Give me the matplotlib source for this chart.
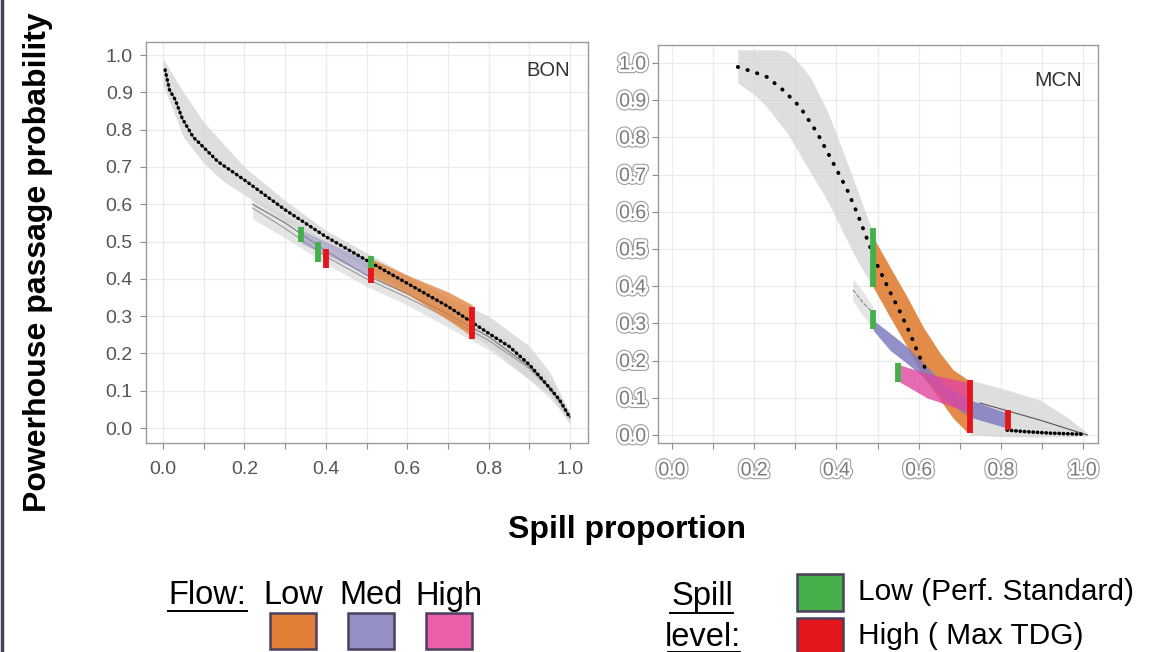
import matplotlib as mpl
mpl.use('Agg')
import matplotlib.pyplot as plt
import matplotlib.patheffects as pe
from matplotlib.lines import Line2D
from matplotlib.patches import Rectangle
from matplotlib.ticker import MultipleLocator

plt.rcParams['font.family'] = ['Liberation Sans', 'DejaVu Sans']

# ---- BON panel values ----
bon_x = [0.005, 0.016, 0.03, 0.047, 0.074, 0.09, 0.135, 0.2, 0.3, 0.4, 0.5,
         0.6, 0.7, 0.8, 0.85, 0.9, 0.94, 0.974, 1.0]
bon_y = [0.96, 0.906, 0.88, 0.83, 0.78, 0.763, 0.714, 0.665, 0.585, 0.513, 0.45,
         0.388, 0.326, 0.254, 0.219, 0.17, 0.12, 0.076, 0.027]
bon_band_x = [0.0, 0.05, 0.1, 0.15, 0.2, 0.3, 0.4, 0.5, 0.6, 0.7, 0.8, 0.9, 0.95, 1.0]
bon_band_hi = [0.99, 0.90, 0.82, 0.76, 0.70, 0.61, 0.53, 0.47, 0.41, 0.35, 0.30, 0.22, 0.15, 0.04]
bon_band_lo = [0.92, 0.78, 0.71, 0.66, 0.625, 0.555, 0.49, 0.43, 0.37, 0.30, 0.22, 0.13, 0.09, 0.01]

bon_alt_x = [0.22, 0.3, 0.4, 0.5, 0.6, 0.7, 0.8, 0.9, 0.95, 1.0]
bon_alt_y1 = [0.60, 0.55, 0.475, 0.41, 0.36, 0.305, 0.245, 0.165, 0.11, 0.03]
bon_alt_y2 = [0.59, 0.535, 0.46, 0.40, 0.35, 0.295, 0.235, 0.16, 0.105, 0.03]
bon_alt_hi = [0.62, 0.57, 0.50, 0.44, 0.39, 0.33, 0.27, 0.19, 0.13, 0.04]
bon_alt_lo = [0.56, 0.51, 0.44, 0.38, 0.33, 0.27, 0.21, 0.13, 0.08, 0.02]

bon_low_x = [0.51, 0.6, 0.7, 0.76]
bon_low_hi = [0.455, 0.41, 0.365, 0.33]
bon_low_lo = [0.41, 0.36, 0.29, 0.245]
bon_med_x = [0.34, 0.42, 0.51]
bon_med_hi = [0.53, 0.49, 0.445]
bon_med_lo = [0.495, 0.455, 0.405]

# (x, y bottom, y top)
bon_spill_low = [(0.34, 0.50, 0.54), (0.38, 0.445, 0.50), (0.51, 0.43, 0.46)]
bon_spill_high = [(0.40, 0.43, 0.48), (0.51, 0.39, 0.43), (0.76, 0.24, 0.325)]

# ---- MCN panel values ----
mcn_x = [0.16, 0.2, 0.231, 0.27, 0.311, 0.353, 0.392, 0.426, 0.45, 0.482,
         0.50, 0.53, 0.555, 0.58, 0.60, 0.62]
mcn_y = [0.989, 0.975, 0.962, 0.927, 0.882, 0.812, 0.731, 0.659, 0.597, 0.505,
         0.455, 0.385, 0.33, 0.27, 0.215, 0.17]
mcn_tail_x = [0.815, 0.86, 0.92, 0.97, 1.0]
mcn_tail_y = [0.013, 0.009, 0.005, 0.003, 0.002]
mcn_band_x = [0.16, 0.2, 0.23, 0.26, 0.28, 0.3, 0.32, 0.34, 0.38, 0.42, 0.45, 0.49]
mcn_band_hi = [1.035, 1.035, 1.035, 1.035, 1.03, 1.01, 0.985, 0.955, 0.865, 0.75, 0.66, 0.54]
mcn_band_lo = [0.946, 0.915, 0.882, 0.84, 0.812, 0.775, 0.737, 0.70, 0.625, 0.535, 0.47, 0.395]
mcn_tailband_x = [0.725, 0.815, 0.895, 0.961, 1.01]
mcn_tailband_hi = [0.148, 0.121, 0.094, 0.048, 0.005]
mcn_tailband_lo = [0.0, -0.005, -0.005, -0.005, -0.002]
mcn_thin_x = [0.749, 0.895, 1.01]
mcn_thin_y = [0.086, 0.04, 0.0]
mcn_pre_x = [0.44, 0.465, 0.489]
mcn_pre_y = [0.39, 0.355, 0.328]
mcn_pre_hi = [0.42, 0.385, 0.345]
mcn_pre_lo = [0.36, 0.32, 0.285]

mcn_low_x = [0.489, 0.53, 0.572, 0.611, 0.652, 0.684, 0.72]
mcn_low_hi = [0.532, 0.452, 0.371, 0.29, 0.22, 0.175, 0.148]
mcn_low_lo = [0.398, 0.317, 0.237, 0.156, 0.094, 0.045, 0.005]
mcn_med_x = [0.489, 0.53, 0.572, 0.62, 0.669, 0.725, 0.774, 0.815]
mcn_med_hi = [0.309, 0.274, 0.237, 0.183, 0.129, 0.094, 0.075, 0.059]
mcn_med_lo = [0.282, 0.228, 0.192, 0.148, 0.09, 0.048, 0.032, 0.019]
mcn_high_x = [0.55, 0.62, 0.725]
mcn_high_hi = [0.19, 0.165, 0.14]
mcn_high_lo = [0.145, 0.10, 0.06]

mcn_spill_low = [(0.489, 0.398, 0.555), (0.489, 0.285, 0.335), (0.549, 0.142, 0.194)]
mcn_spill_high = [(0.725, 0.005, 0.148), (0.818, 0.013, 0.067)]

flow_labels = ['Low', 'Med', 'High']
flow_colors = ['#E07E35', '#9590C4', '#EB5FA8']
spill_labels = ['Low (Perf. Standard)', 'High ( Max TDG)']
spill_colors = ['#45B04A', '#E4161C']

GREEN = spill_colors[0]
RED = spill_colors[1]
BAND = '#d4d4d4'


def style_axes(ax, xlim, ylim, xpad, ypad):
    ax.set_xlim(*xlim)
    ax.set_ylim(*ylim)
    ax.xaxis.set_major_locator(MultipleLocator(0.2))
    ax.xaxis.set_minor_locator(MultipleLocator(0.1))
    ax.yaxis.set_major_locator(MultipleLocator(0.1))
    ax.grid(which='both', color='#ebebeb', lw=0.9)
    ax.set_axisbelow(True)
    for s in ax.spines.values():
        s.set_color('#9a9a9a')
        s.set_linewidth(1.0)
    ax.tick_params(which='both', colors='#8a8a8a', length=4, width=0.8,
                   labelsize=14, labelcolor='#555555')
    ax.tick_params(axis='x', pad=xpad)
    ax.tick_params(axis='y', pad=ypad)
    ax.xaxis.set_major_formatter(mpl.ticker.FormatStrFormatter('%.1f'))
    ax.yaxis.set_major_formatter(mpl.ticker.FormatStrFormatter('%.1f'))


def bars(ax, items, color):
    for x, y0, y1 in items:
        ax.plot([x, x], [y0, y1], color=color, lw=4.2, solid_capstyle='butt', zorder=6)


fig = plt.figure(figsize=(11.5, 6.52), dpi=100)

# ---------------- BON ----------------
ax1 = fig.add_axes([146 / 1150, 1 - 443 / 652, 442 / 1150, 401 / 652])
style_axes(ax1, (-0.042, 1.044), (-0.040, 1.035), 9, 5.5)
ax1.fill_between(bon_band_x, bon_band_lo, bon_band_hi, color=BAND, alpha=0.75, lw=0)
ax1.fill_between(bon_alt_x, bon_alt_lo, bon_alt_hi, color=BAND, alpha=0.6, lw=0)
ax1.plot(bon_alt_x, bon_alt_y1, color='#777777', lw=0.8)
ax1.plot(bon_alt_x, bon_alt_y2, color='#999999', lw=0.8)
ax1.fill_between(bon_med_x, bon_med_lo, bon_med_hi, color=flow_colors[1], alpha=0.55, lw=0, zorder=3)
ax1.fill_between(bon_low_x, bon_low_lo, bon_low_hi, color=flow_colors[0], alpha=0.75, lw=0, zorder=3)
ax1.plot(bon_x, bon_y, color='#333333', lw=0.6, zorder=5)
ax1.plot(bon_x, bon_y, color='black', lw=2.5, linestyle=(0, (0.1, 1.35)),
         dash_capstyle='round', zorder=5)
bars(ax1, bon_spill_low, GREEN)
bars(ax1, bon_spill_high, RED)
ax1.text(0.91, 0.93, 'BON', transform=ax1.transAxes, ha='center', va='center',
         fontsize=14.5, color='#333333')

# ---------------- MCN ----------------
ax2 = fig.add_axes([658 / 1150, 1 - 443 / 652, 440 / 1150, 398 / 652])
style_axes(ax2, (-0.034, 1.036), (-0.0215, 1.048), 10, 4.5)
halo = [pe.Stroke(linewidth=5.5, foreground='#9a9a9a'),
        pe.Stroke(linewidth=4, foreground='white'), pe.Normal()]
for lab in ax2.get_xticklabels() + ax2.get_yticklabels():
    lab.set_path_effects(halo)
    lab.set_color('#7a7a7a')
ax2.fill_between(mcn_band_x, mcn_band_lo, mcn_band_hi, color=BAND, alpha=0.75, lw=0)
ax2.fill_between(mcn_tailband_x, mcn_tailband_lo, mcn_tailband_hi, color=BAND, alpha=0.75, lw=0)
ax2.fill_between(mcn_pre_x, mcn_pre_lo, mcn_pre_hi, color=BAND, alpha=0.6, lw=0)
ax2.plot(mcn_pre_x, mcn_pre_y, color='#888888', lw=0.8, linestyle='--')
ax2.plot(mcn_thin_x, mcn_thin_y, color='#555555', lw=0.8)
ax2.fill_between(mcn_low_x, mcn_low_lo, mcn_low_hi, color=flow_colors[0], alpha=0.9, lw=0, zorder=3)
ax2.fill_between(mcn_med_x, mcn_med_lo, mcn_med_hi, color='#7f7bc0', alpha=0.85, lw=0, zorder=3)
ax2.fill_between(mcn_high_x, mcn_high_lo, mcn_high_hi, color='#e0469f', alpha=0.8, lw=0, zorder=4)
ax2.plot(mcn_x, mcn_y, color='black', lw=2.8, linestyle=(0, (0.1, 2.5)),
         dash_capstyle='round', zorder=5)
ax2.plot(mcn_tail_x, mcn_tail_y, color='black', lw=2.6, linestyle=(0, (0.1, 1.1)),
         dash_capstyle='round', zorder=5)
bars(ax2, mcn_spill_low, GREEN)
bars(ax2, mcn_spill_high, RED)
ax2.text(0.91, 0.91, 'MCN', transform=ax2.transAxes, ha='center', va='center',
         fontsize=15, color='#333333')

# ---------------- labels ----------------
fig.text(38 / 1150, 1 - 262 / 652, 'Powerhouse passage probability', rotation=90,
         ha='center', va='center', fontsize=23, fontweight='bold')
fig.text(627 / 1150, 1 - 530 / 652, 'Spill proportion', ha='center', va='center',
         fontsize=23, fontweight='bold')

# ---------------- legend ----------------
EDGE = '#4B3F5E'


def underlined(xc, yc, s, x0, x1, yline):
    fig.text(xc / 1150, 1 - yc / 652, s, ha='center', va='center', fontsize=23.5)
    fig.add_artist(Line2D([x0 / 1150, x1 / 1150], [1 - yline / 652] * 2, color='black', lw=1.4))


underlined(207, 596, 'Flow:', 168, 247, 611)
for i, lab in enumerate(flow_labels):
    xc = 293 + i * 78
    fig.text(xc / 1150, 1 - 596 / 652, lab, ha='center', va='center', fontsize=23.5)
    fig.add_artist(Rectangle(((xc - 23) / 1150, 1 - 649 / 652), 46 / 1150, 36 / 652,
                             facecolor=flow_colors[i], edgecolor=EDGE, lw=1.8))

underlined(702, 597, 'Spill', 670, 733, 613)
underlined(703, 637, 'level:', 668, 740, 652)
for i, lab in enumerate(spill_labels):
    yc = 592 + i * 44
    fig.add_artist(Rectangle((797 / 1150, 1 - (yc + 19) / 652), 46 / 1150, 37 / 652,
                             facecolor=spill_colors[i], edgecolor=EDGE, lw=1.8))
    fig.text(858 / 1150, 1 - yc / 652, lab, ha='left', va='center', fontsize=21.5)

fig.add_artist(Line2D([1.5 / 1150] * 2, [0, 1], color=EDGE, lw=2.5))

fig.savefig('out.png', dpi=100)
